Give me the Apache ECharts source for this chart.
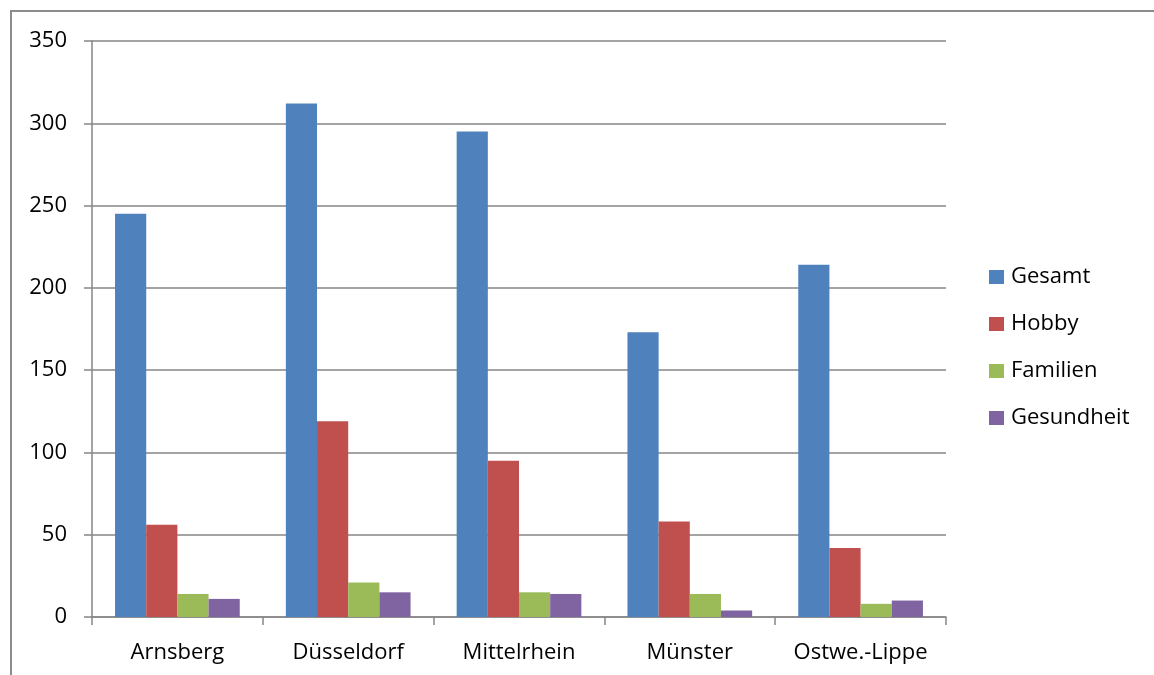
<!DOCTYPE html>
<html>
<head>
<meta charset="utf-8">
<script src="https://cdn.jsdelivr.net/npm/echarts@6/dist/echarts.min.js"></script>
<style>
  html, body { margin: 0; padding: 0; background: #fff; }
  #frame {
    position: absolute; left: 10px; top: 10px; right: 0; bottom: 0;
    border-top: 2px solid #8c8c8c; border-left: 2px solid #8c8c8c;
  }
  #chart { position: absolute; left: 0; top: 0; width: 1154px; height: 675px; }
</style>
</head>
<body>
<div id="frame"></div>
<div id="chart"></div>
<script>
const regions = ['Arnsberg', 'Düsseldorf', 'Mittelrhein', 'Münster', 'Ostwe.-Lippe']
const gesamt = [245, 312, 295, 173, 214]
const hobby = [56, 119, 95, 58, 42]
const familien = [14, 21, 15, 14, 8]
const gesundheit = [11, 15, 14, 4, 10]

const colors = ['#4f81bd', '#c0504d', '#9bbb59', '#8064a2']
const font = '"Open Sans", sans-serif'

const chart = echarts.init(document.getElementById('chart'))

function bar(name, data) {
  return { name, type: 'bar', data, barGap: '0%', barCategoryGap: '27%' }
}

chart.setOption({
  animation: false,
  color: colors,
  grid: { left: 92, right: 208, top: 41, bottom: 58 },
  legend: {
    orient: 'vertical',
    left: 989,
    top: 266,
    padding: 0,
    itemWidth: 15,
    itemHeight: 14,
    itemGap: 25,
    icon: 'rect',
    textStyle: { fontFamily: font, fontSize: 22, color: '#000', padding: [0, 0, 0, 2] },
    data: ['Gesamt', 'Hobby', 'Familien', 'Gesundheit'],
  },
  xAxis: {
    type: 'category',
    data: regions,
    axisLine: { lineStyle: { color: '#868686', width: 1.5 } },
    axisTick: { show: true, interval: 0, length: 8, lineStyle: { color: '#868686', width: 1.5 } },
    axisLabel: { interval: 0, fontFamily: font, fontSize: 22, color: '#000', margin: 25 },
  },
  yAxis: {
    type: 'value',
    min: 0,
    max: 350,
    interval: 50,
    axisLine: { show: true, lineStyle: { color: '#868686', width: 1.5 } },
    axisTick: { show: true, length: 8, lineStyle: { color: '#868686', width: 1.5 } },
    axisLabel: { fontFamily: font, fontSize: 22, color: '#000', margin: 25 },
    splitLine: { lineStyle: { color: '#868686', width: 1.5 } },
  },
  series: [
    bar('Gesamt', gesamt),
    bar('Hobby', hobby),
    bar('Familien', familien),
    bar('Gesundheit', gesundheit),
  ],
})
</script>
</body>
</html>
